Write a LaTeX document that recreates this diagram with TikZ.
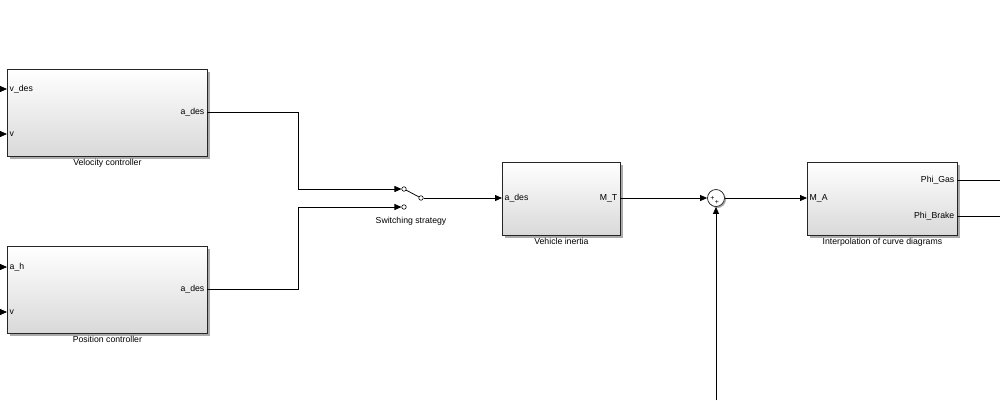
\documentclass[tikz,border=0pt]{standalone}
\usepackage{fontspec}
\setmainfont{Liberation Sans}
\usetikzlibrary{arrows.meta,shadows,positioning}

\begin{document}
\begin{tikzpicture}[x=1pt, y=-1pt,
  font=\fontsize{8.7}{10}\selectfont,
  block/.style={draw=black!85, line width=0.8pt, top color=white, bottom color=black!15,
    drop shadow={shadow xshift=2.2pt, shadow yshift=-2.2pt, fill=black!55, opacity=0.6},
    anchor=north west, inner sep=0pt},
  port/.style={inner sep=2.5pt},
  caption/.style={inner sep=1pt},
  sig/.style={-{Triangle[length=7pt,width=6pt]}, line width=0.75pt},
  wire/.style={line width=0.75pt},
  contact/.style={circle, draw, fill=white, inner sep=0pt, minimum size=4.5pt, line width=0.6pt},
  sumnode/.style={circle, draw=black!85, fill=white, inner sep=0pt, minimum size=17pt, line width=0.75pt,
    drop shadow={shadow xshift=1.5pt, shadow yshift=-1.5pt, fill=black!55, opacity=0.6}}]

   \useasboundingbox (0,0) rectangle (1000,400);

   % velocity controller
   \node[block, minimum width=200pt, minimum height=87pt] (vel) at (7,69) {};
   \node[caption, below=1pt of vel] (vellabel) {Velocity controller};
   \node[port, anchor=west] (velvdes) at (7,89) {v\_des};
   \node[port, anchor=west] (velv) at (7,134) {v};
   \node[port, anchor=east] (velout) at (207,112) {a\_des};

   % position controller
   \node[block, minimum width=200pt, minimum height=87pt] (pos) at (7,246) {};
   \node[caption, below=1pt of pos] (poslabel) {Position controller};
   \node[port, anchor=west] (posah) at (7,267) {a\_h};
   \node[port, anchor=west] (posv) at (7,312) {v};
   \node[port, anchor=east] (posout) at (207,289) {a\_des};

   % switch
   \node[contact] (swin1) at (404,189) {};
   \node[contact] (swin2) at (404,207) {};
   \node[contact] (swout) at (421,198) {};
   \node (swlabel) at (411,221) {Switching strategy};

   % vehicle inertia
   \node[block, minimum width=118pt, minimum height=73pt] (inert) at (502,162) {};
   \node[caption, below=1pt of inert] (inertlabel) {Vehicle inertia};
   \node[port, anchor=west] (inertin) at (502,198) {a\_des};
   \node[port, anchor=east] (inertout) at (620,198) {M\_T};

   % sum
   \node[sumnode] (sum) at (716,198) {};
   \node[inner sep=0pt, font=\fontsize{7}{7}\selectfont] (plus1) at (712.5,198) {+};
   \node[inner sep=0pt, font=\fontsize{7}{7}\selectfont] (plus2) at (716.8,202) {+};

   % interpolation
   \node[block, minimum width=150pt, minimum height=73pt] (interp) at (807,162) {};
   \node[caption, below=1pt of interp] (interplabel) {Interpolation of curve diagrams};
   \node[port, anchor=west] (interpin) at (807,198) {M\_A};
   \node[port, anchor=east] (gasout) at (957,180) {Phi\_Gas};
   \node[port, anchor=east] (brakeout) at (957,216) {Phi\_Brake};

   % free ends
   \coordinate (src1) at (-2,89);
   \coordinate (src2) at (-2,134);
   \coordinate (src3) at (-2,267);
   \coordinate (src4) at (-2,312);
   \coordinate (fb) at (716,400);
   \coordinate (gasend) at (1000,180);
   \coordinate (brakeend) at (1000,216);

   \draw[sig] (src1) -- (velvdes.west);
   \draw[sig] (src2) -- (velv.west);
   \draw[sig] (src3) -- (posah.west);
   \draw[sig] (src4) -- (posv.west);

   \draw[sig] (velout.east) -- ++(91,0) |- (swin1);
   \draw[sig] (posout.east) -- ++(91,0) |- (swin2);
   \draw[wire] (swin1) -- (swout);
   \draw[sig] (swout) -- (inertin.west);
   \draw[sig] (inertout.east) -- (sum);
   \draw[sig] (fb) -- (sum);
   \draw[sig] (sum) -- (interpin.west);
   \draw[wire] (gasout.east) -- (gasend);
   \draw[wire] (brakeout.east) -- (brakeend);

\end{tikzpicture}
\end{document}
